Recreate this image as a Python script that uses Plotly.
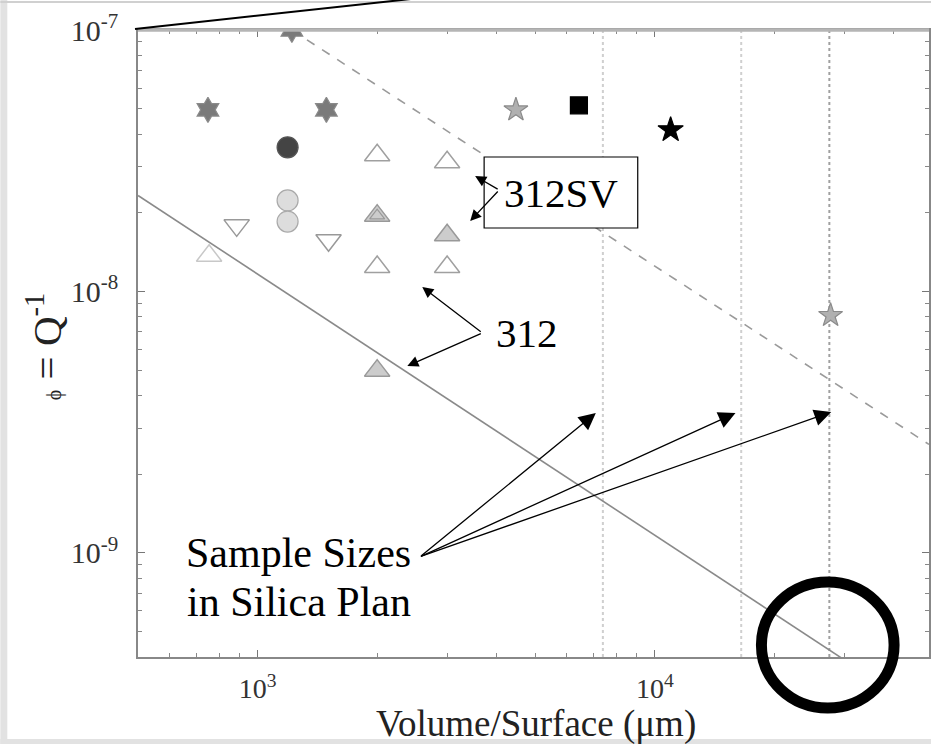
import numpy as np
import plotly.graph_objects as go

# ---------------- data ----------------
hex_x = [1220, 750, 1490]
hex_y = [1.0e-7, 4.95e-8, 4.95e-8]

gstar_x = [4470, 27700]
gstar_y = [4.95e-8, 8.1e-9]

bsq_x = [6440]
bsq_y = [5.15e-8]

bstar_x = [10960]
bstar_y = [4.15e-8]

dcirc_x = [1190]
dcirc_y = [3.56e-8]

lcirc_x = [1190, 1190]
lcirc_y = [2.23e-8, 1.85e-8]

otri_x = [2000, 3000, 2000, 3000]
otri_y = [3.32e-8, 3.12e-8, 1.24e-8, 1.24e-8]

otri_light_x = [755]
otri_light_y = [1.37e-8]

gtri_x = [2000, 3000, 2000]
gtri_y = [1.95e-8, 1.64e-8, 4.98e-9]

dtri_x = [886, 1509]
dtri_y = [1.79e-8, 1.57e-8]

solid_x = [500, 30000]
solid_y = [2.33e-8, 3.9e-10]

dash_x = [1220, 49000]
dash_y = [1.0e-7, 2.6e-9]

sample_sizes = [7400, 16500, 27500]
y_lo, y_hi = 4.0e-10, 1.0e-7
x_lo, x_hi = 500, 49000

x_major = [1e3, 1e4]
x_ticktext = ["10<sup>3</sup>", "10<sup>4</sup>"]
x_minor = [600, 700, 800, 900, 2000, 3000, 4000, 5000, 6000, 7000, 8000, 9000,
           20000, 30000, 40000]
y_major = [1e-9, 1e-8, 1e-7]
y_ticktext = ["10<sup>-9</sup>", "10<sup>-8</sup>", "10<sup>-7</sup>"]
y_minor = [5e-10, 6e-10, 7e-10, 8e-10, 9e-10,
           2e-9, 3e-9, 4e-9, 5e-9, 6e-9, 7e-9, 8e-9, 9e-9,
           2e-8, 3e-8, 4e-8, 5e-8, 6e-8, 7e-8, 8e-8, 9e-8]

# ---------------- layout geometry ----------------
W, H = 933, 744
ML, MR, MT, MB = 138, 2, 30, 87
PW, PH = W - ML - MR, H - MT - MB
SERIF = "Liberation Serif, Times New Roman, serif"


def P(xi, yi):
    """image pixel -> paper coords"""
    return (xi - ML) / PW, (H - MB - yi) / PH


fig = go.Figure()

# vertical sample-size lines
for i, sx in enumerate(sample_sizes):
    fig.add_trace(go.Scatter(
        x=[sx, sx], y=[y_lo, y_hi], mode="lines",
        line=dict(color="#cfcfcf" if i < 2 else "#a0a0a0", width=2, dash="dot"),
        hoverinfo="skip", showlegend=False))

fig.add_trace(go.Scatter(x=solid_x, y=solid_y, mode="lines",
                         line=dict(color="#8a8a8a", width=1.6), showlegend=False))
fig.add_trace(go.Scatter(x=dash_x, y=dash_y, mode="lines",
                         line=dict(color="#9a9a9a", width=1.6, dash="dash"), showlegend=False))


def mk(x, y, symbol, size, fill, line, lw=1.2):
    fig.add_trace(go.Scatter(x=x, y=y, mode="markers", showlegend=False,
                             marker=dict(symbol=symbol, size=size, color=fill,
                                         line=dict(color=line, width=lw))))


mk(hex_x, hex_y, "hexagram", 19, "#7a7a7a", "#8a8a8a")
mk(gstar_x, gstar_y, "star", 18, "#b0b0b0", "#8a8a8a")
mk(bsq_x, bsq_y, "square", 17, "#000000", "#000000")
mk(bstar_x, bstar_y, "star", 19, "#000000", "#000000")
mk(dcirc_x, dcirc_y, "circle", 21, "#444444", "#555555")
mk(lcirc_x, lcirc_y, "circle", 21, "#dddddd", "#aaaaaa")
mk(otri_x, otri_y, "triangle-up-open", 22, "#a0a0a0", "#a0a0a0", 1.5)
mk(otri_light_x, otri_light_y, "triangle-up-open", 22, "#c8c8c8", "#c8c8c8", 1.5)
mk(gtri_x, gtri_y, "triangle-up", 22, "#cccccc", "#999999", 1.5)
mk(gtri_x[:1], gtri_y[:1], "triangle-up-open", 13, "#999999", "#999999", 1.2)
mk(dtri_x, dtri_y, "triangle-down-open", 22, "#999999", "#999999", 1.5)

axis_common = dict(type="log", showgrid=False, zeroline=False,
                   showline=True, linecolor="#888888", linewidth=1.5,
                   mirror="allticks", ticks="inside", ticklen=7, tickcolor="#777777",
                   tickmode="array")

fig.update_xaxes(range=[np.log10(x_lo), np.log10(x_hi)], tickvals=x_major,
                 ticktext=x_ticktext, ticklabelstandoff=6,
                 tickfont=dict(family=SERIF, size=28, color="#333333"),
                 minor=dict(tickvals=x_minor, ticks="inside", ticklen=4,
                            tickcolor="#888888", showgrid=False),
                 **axis_common)
fig.update_yaxes(range=[np.log10(y_lo), np.log10(y_hi)], tickvals=y_major,
                 ticktext=y_ticktext, ticklabelstandoff=12,
                 tickfont=dict(family=SERIF, size=30, color="#333333"),
                 minor=dict(tickvals=y_minor, ticks="inside", ticklen=4,
                            tickcolor="#888888", showgrid=False),
                 **axis_common)

shapes = []
# thick top border
shapes.append(dict(type="line", xref="paper", yref="paper", x0=0, x1=1, y0=1.0, y1=1.0,
                   line=dict(color="#b5b5b5", width=3.5)))
# scan edges
shapes.append(dict(type="rect", xref="paper", yref="paper",
                   x0=P(0, 0)[0], x1=P(7, 0)[0], y0=P(0, 744)[1], y1=P(0, 0)[1],
                   fillcolor="#e2e2e2", line=dict(width=0), layer="below"))
shapes.append(dict(type="rect", xref="paper", yref="paper",
                   x0=P(0, 0)[0], x1=P(933, 0)[0], y0=P(0, 744)[1], y1=P(0, 739)[1],
                   fillcolor="#e2e2e2", line=dict(width=0), layer="below"))
shapes.append(dict(type="line", xref="paper", yref="paper",
                   x0=P(0, 0)[0], x1=P(933, 0)[0], y0=P(0, 2)[1], y1=P(0, 2)[1],
                   line=dict(color="#d0d0d0", width=2)))
# leader line from top-left corner
a, b = P(135, 29)
c, d = P(430, -3)
shapes.append(dict(type="line", xref="paper", yref="paper", x0=a, y0=b, x1=c, y1=d,
                   line=dict(color="black", width=2)))
# 312SV box
a, b = P(485, 157)
c, d = P(639, 228)
shapes.append(dict(type="rect", xref="paper", yref="paper", x0=a, y0=d, x1=c, y1=b,
                   fillcolor="white", line=dict(color="black", width=1.2)))
# big circle
a, b = P(763, 582)
c, d = P(896, 708)
shapes.append(dict(type="circle", xref="paper", yref="paper", x0=a, y0=d, x1=c, y1=b,
                   line=dict(color="black", width=11)))
fig.update_layout(shapes=shapes)

ann = []


def text(xi, yi, s, size, angle=0, color="black"):
    px_, py_ = P(xi, yi)
    ann.append(dict(xref="paper", yref="paper", x=px_, y=py_, text=s, showarrow=False,
                    xanchor="center", yanchor="middle", textangle=angle,
                    font=dict(family=SERIF, size=size, color=color)))


def arrow(tail, head, size=1.0, width=1.3):
    hx, hy = P(*head)
    ann.append(dict(xref="paper", yref="paper", x=hx, y=hy, text="", showarrow=True,
                    ax=tail[0] - head[0], ay=tail[1] - head[1],
                    arrowhead=2, arrowsize=size, arrowwidth=width,
                    arrowcolor="black", standoff=0, startstandoff=0))


text(562, 193, "312SV", 41)
text(528, 333, "312", 41)
text(299, 553, "Sample Sizes", 42)
text(299, 602, "in Silica Plan", 42)
text(537, 724, "Volume/Surface (\u03bcm)", 37, color="#222222")
text(44, 346, '<span style="font-size:20px">\u03d5</span> = Q<sup>-1</sup>', 41,
     angle=-90, color="#222222")

arrow((500, 190), (476, 176), 1.7)
arrow((500, 190), (471, 221), 1.7)
arrow((483, 333), (423, 287), 1.7)
arrow((483, 333), (408, 366), 1.7)
for hd in [(597, 413), (737, 413), (833, 412)]:
    arrow((421, 557), hd, 2.6)

fig.update_layout(annotations=ann)

fig.update_layout(width=W, height=H, autosize=False,
                  margin=dict(l=ML, r=MR, t=MT, b=MB),
                  paper_bgcolor="white", plot_bgcolor="white",
                  showlegend=False)

fig.write_html("out.html")
